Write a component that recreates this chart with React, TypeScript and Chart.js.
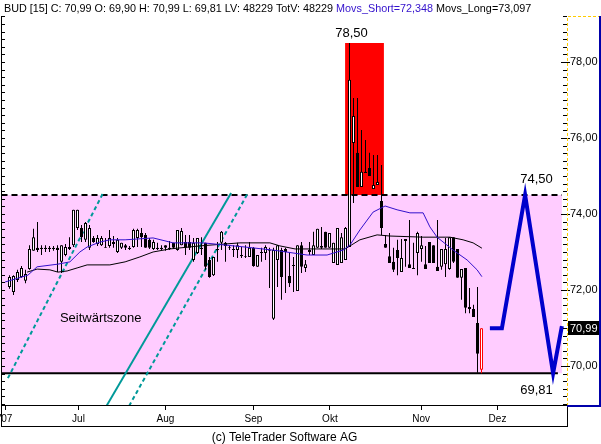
import React, { useEffect, useRef } from 'react';
import { Chart, registerables } from 'chart.js';

Chart.register(...registerables);

// ---- candle data (daily, trading-day index) ----
const opens = [
  72.08, 71.95, 72.26, 72.34, 72.24, 72.55, 73.03, 73.11, 73.11, 73.11,
  73.08, 73.11, 73.11, 72.74, 72.92, 73.13, 73.18, 73.63, 73.63, 73.32,
  73.11, 73.37, 73.21, 73.18, 73.13, 73.16, 73.26, 73.00, 73.11, 73.18,
  73.11, 73.13, 73.37, 73.50, 73.45, 73.32, 73.08, 73.11, 73.11, 73.18,
  73.11, 73.24, 73.05, 73.18, 73.26, 73.26, 72.79, 72.97, 73.11, 73.24,
  72.79, 72.39, 73.05, 73.24, 73.24, 73.11, 73.05, 73.05, 72.92, 72.87,
  72.87, 73.11, 72.61, 73.00, 72.97, 73.05, 71.24, 72.79, 73.05, 73.08,
  72.37, 72.63, 71.97, 73.18, 72.58, 73.00, 72.92, 73.11, 73.11, 73.53,
  73.11, 72.71, 72.66, 72.71, 72.79, 73.13, 75.87, 75.61, 74.71, 75.11,
  75.21, 74.66, 74.76, 74.34, 73.21, 72.89, 72.74, 73.05, 72.47, 73.29,
  72.68, 72.58, 72.97, 73.08, 72.68, 73.26, 73.18, 72.61, 72.61, 72.68,
  72.55, 73.39, 73.08, 72.32, 72.58, 71.55, 71.50, 71.13, 69.90,
];
const highs = [
  72.39, 72.39, 72.53, 72.63, 72.53, 73.18, 73.61, 73.79, 73.18, 73.18,
  73.16, 73.16, 73.18, 73.18, 73.21, 73.39, 74.11, 74.11, 73.71, 73.79,
  73.71, 73.42, 73.45, 73.42, 73.37, 73.58, 73.42, 73.37, 73.24, 73.21,
  73.16, 73.61, 73.61, 73.63, 73.50, 73.37, 73.32, 73.24, 73.18, 73.18,
  73.29, 73.24, 73.58, 73.63, 73.45, 73.45, 73.37, 73.37, 73.39, 73.24,
  72.87, 72.87, 73.26, 73.55, 73.26, 73.18, 73.18, 73.24, 73.13, 73.18,
  73.26, 73.13, 72.92, 73.11, 73.18, 73.11, 73.11, 73.18, 73.11, 73.11,
  72.97, 72.87, 73.18, 73.26, 72.79, 73.26, 73.53, 73.61, 73.66, 73.53,
  73.50, 73.24, 73.63, 73.50, 73.66, 78.50, 77.05, 77.05, 76.21, 75.95,
  75.61, 75.55, 75.55, 75.29, 73.45, 73.50, 73.11, 73.32, 73.34, 73.34,
  73.84, 73.24, 73.53, 73.42, 73.16, 73.26, 73.18, 73.84, 73.08, 73.37,
  73.39, 73.39, 73.08, 72.55, 72.58, 72.05, 71.61, 72.08, 70.99,
];
const lows = [
  72.03, 71.87, 72.21, 72.32, 72.18, 72.53, 73.03, 73.00, 72.92, 73.00,
  73.00, 73.03, 72.47, 72.45, 72.89, 73.05, 73.13, 73.58, 73.26, 73.26,
  73.05, 73.24, 73.16, 73.16, 73.11, 73.11, 73.11, 72.97, 73.08, 73.05,
  73.05, 73.11, 73.13, 73.13, 73.11, 73.08, 73.05, 73.05, 73.05, 73.03,
  73.05, 73.08, 73.03, 73.18, 72.92, 73.05, 72.74, 72.95, 72.92, 72.53,
  72.32, 72.37, 72.74, 73.05, 72.74, 73.05, 72.87, 72.84, 72.84, 72.84,
  72.87, 72.61, 72.61, 72.74, 72.79, 72.05, 71.21, 72.08, 71.74, 71.92,
  72.08, 71.95, 71.97, 72.45, 72.47, 72.92, 72.92, 73.11, 73.08, 73.11,
  73.11, 72.71, 72.66, 72.71, 72.79, 73.13, 74.29, 74.71, 74.71, 75.08,
  75.00, 74.66, 74.76, 73.45, 73.11, 72.71, 72.47, 72.39, 72.47, 72.61,
  72.58, 72.55, 72.39, 72.74, 72.55, 72.71, 72.71, 72.50, 72.53, 72.34,
  72.53, 72.71, 72.32, 71.74, 71.39, 71.39, 71.29, 69.82, 69.81,
];
const closes = [
  72.34, 72.37, 72.47, 72.58, 72.42, 73.08, 73.39, 73.05, 73.08, 73.08,
  73.11, 73.08, 73.05, 73.18, 73.13, 73.08, 74.11, 74.11, 73.39, 73.76,
  73.63, 73.26, 73.37, 73.37, 73.11, 73.37, 73.21, 73.32, 73.24, 73.11,
  73.08, 73.58, 73.58, 73.39, 73.11, 73.11, 73.26, 73.08, 73.08, 73.11,
  73.08, 73.11, 73.58, 73.55, 73.11, 73.11, 73.24, 73.37, 73.08, 72.61,
  72.34, 72.87, 73.08, 73.53, 73.16, 73.13, 73.08, 73.18, 72.89, 72.89,
  73.11, 72.63, 72.92, 72.97, 73.13, 73.03, 73.05, 73.18, 72.34, 73.00,
  72.18, 72.66, 73.18, 72.61, 72.68, 73.05, 73.18, 73.61, 73.16, 73.11,
  73.50, 73.24, 73.63, 73.39, 73.63, 77.53, 76.58, 74.71, 75.11, 75.08,
  75.00, 74.76, 74.84, 73.63, 73.11, 72.71, 72.53, 72.84, 72.84, 73.34,
  72.58, 72.55, 73.50, 73.18, 72.55, 72.71, 72.71, 72.50, 73.08, 73.08,
  73.39, 72.74, 72.32, 72.55, 71.53, 71.50, 71.29, 70.32, 70.99,
];

// ---- moving averages ----
const shortMaIdx = [-1.1, 4.6, 6.9, 12.1, 15.1, 17.6, 19.4, 22.6, 25.1, 28.9, 35.9, 40.9, 48.4, 58.9, 65.9, 74.4, 79.4, 83.4, 85.1, 87.6, 90.9, 93.9, 96.9, 100.1, 103.4, 105.1, 106.9, 110.9, 114.4, 116.9, 118.1];
const shortMaVal = [72.21, 72.39, 72.61, 72.68, 72.74, 73.0, 73.13, 73.26, 73.32, 73.32, 73.37, 73.24, 73.24, 73.13, 73.05, 72.92, 72.92, 73.05, 73.18, 73.58, 74.05, 74.21, 74.11, 74.03, 74.03, 73.66, 73.39, 73.05, 72.79, 72.53, 72.35];
const longMaIdx = [4.4, 6.9, 10.1, 12.1, 14.4, 16.9, 19.4, 25.1, 28.9, 32.6, 35.9, 40.1, 47.6, 57.6, 65.1, 67.6, 71.4, 83.9, 85.9, 87.6, 91.9, 95.1, 103.4, 110.1, 113.4, 115.9, 118.1];
const longMaVal = [72.47, 72.55, 72.53, 72.47, 72.5, 72.58, 72.66, 72.66, 72.74, 72.87, 73.0, 73.08, 73.16, 73.24, 73.24, 73.16, 73.08, 73.08, 73.21, 73.32, 73.45, 73.42, 73.39, 73.39, 73.32, 73.24, 73.1];

// ---- drawn trend lines ----
const trend1Idx = [-0.4, 23.4];
const trend1Val = [69.68, 74.55];
const trend2Idx = [24.25, 55.4];
const trend2Val = [68.95, 74.55];
const trend3Idx = [29.9, 59.6];
const trend3Val = [68.95, 74.55];

// ---- projection ----
const projIdx = [120.1, 123.1, 128.9, 135.9, 138.1];
const projVal = [70.99, 70.99, 74.5, 69.81, 71.05];

// ---- zones ----
const zoneTop = 74.5;
const zoneBottom = 69.81;
const zoneIdx = [-2, 138.1];
const zoneBottomIdx = [-2, 137.1];
const peakHigh = 78.5;
const peakBoxIdx = [83.9, 93.6];
const peakLabelIdx = 85.5;
const zoneLabelIdx = 131.75;
const zoneName = 'Seitwärtszone';
const zoneNameIdx = 12.6;
const zoneNameVal = 71.16;

// ---- axes ----
const monthTickIdx = [-0.9, 17.25, 39, 61, 80.1, 102.9, 122];
const monthLabels = ["'07", 'Jul', 'Aug', 'Sep', 'Okt', 'Nov', 'Dez'];
const yTicks = [70, 72, 74, 76, 78];
const xMin = -1.875;
const xMax = 139.375;
const yMin = 68.947;
const yMax = 79.21;

const headerTexts = ['BUD [15] C: 70,99 O: 69,90 H: 70,99 L: 69,81 LV: 48229 TotV: 48229 ', 'Movs_Short=72,348 ', 'Movs_Long=73,097'];
const headerColors = ['#000000', '#3311CC', '#000000'];
const copyright = '(c) TeleTrader Software AG';

const FONT = '"Liberation Sans", Arial, sans-serif';
const lastIdx = closes.length - 1;
const fmt = (v: number) => v.toFixed(2).replace('.', ',');

const decorPlugin = {
  id: 'decor',
  beforeDraw(chart: any) {
    const ctx = chart.ctx;
    ctx.save();
    ctx.fillStyle = '#ffffff';
    ctx.fillRect(0, 0, chart.width, chart.height);
    ctx.restore();
  },
  afterDatasetsDraw(chart: any) {
    const ctx = chart.ctx;
    const xs = chart.scales.x;
    const ys = chart.scales.y;
    ctx.save();
    ctx.fillStyle = '#000';
    ctx.font = `13px ${FONT}`;
    ctx.textAlign = 'center';
    ctx.textBaseline = 'bottom';
    ctx.fillText(fmt(peakHigh), xs.getPixelForValue(peakLabelIdx), ys.getPixelForValue(peakHigh) - 3);
    ctx.fillText(fmt(zoneTop), xs.getPixelForValue(zoneLabelIdx), ys.getPixelForValue(zoneTop) - 9);
    ctx.textBaseline = 'top';
    ctx.fillText(fmt(zoneBottom), xs.getPixelForValue(zoneLabelIdx), ys.getPixelForValue(zoneBottom) + 11);
    ctx.font = `13px ${FONT}`;
    ctx.textAlign = 'left';
    ctx.textBaseline = 'alphabetic';
    ctx.fillText(zoneName, xs.getPixelForValue(zoneNameIdx), ys.getPixelForValue(zoneNameVal));
    ctx.restore();
  },
  afterDraw(chart: any) {
    const ctx = chart.ctx;
    const ys = chart.scales.y;
    const area = chart.chartArea;
    ctx.save();
    // plot frame
    ctx.fillStyle = '#000';
    ctx.fillRect(area.left - 1, area.top, 1, area.bottom - area.top);
    ctx.fillRect(area.left - 1, area.bottom - 1, area.right - area.left + 1, 1);
    // x-axis box
    ctx.fillRect(area.left - 1, area.bottom + 20, area.right - area.left + 1, 1);
    ctx.fillRect(area.left - 1, area.bottom, 1, 21);
    ctx.fillRect(area.right, area.bottom, 1, 21);
    // y tick marks
    ctx.strokeStyle = '#000';
    ctx.lineWidth = 1;
    ctx.beginPath();
    for (let k = Math.ceil(ys.min * 5); k <= Math.floor(ys.max * 5); k++) {
      const y = Math.round(ys.getPixelForValue(k / 5)) + 0.5;
      ctx.moveTo(area.left, y);
      ctx.lineTo(area.left + 3, y);
      const major = k % 10 === 0;
      ctx.moveTo(area.right - (major ? 6 : 4), y);
      ctx.lineTo(area.right + (major ? 3 : 0), y);
    }
    ctx.stroke();
    // axis panel border
    ctx.strokeStyle = '#FFCC00';
    ctx.setLineDash([3, 2]);
    ctx.beginPath();
    ctx.moveTo(area.right + 0.5, area.bottom);
    ctx.lineTo(area.right + 0.5, area.top + 0.5);
    ctx.lineTo(chart.width - 2, area.top + 0.5);
    ctx.stroke();
    ctx.setLineDash([]);
    ctx.fillStyle = '#0000AA';
    ctx.fillRect(chart.width - 2, area.top, 2, area.bottom - area.top + 1);
    ctx.fillRect(area.right, area.bottom - 1, chart.width - area.right, 2);
    // last value box
    const yv = ys.getPixelForValue(closes[lastIdx]);
    ctx.fillStyle = '#000';
    ctx.fillRect(area.right + 1, Math.round(yv) - 7, 31, 14);
    ctx.fillStyle = '#fff';
    ctx.font = `11px ${FONT}`;
    ctx.textAlign = 'left';
    ctx.textBaseline = 'middle';
    ctx.fillText(fmt(closes[lastIdx]), area.right + 3, Math.round(yv) + 0.5);
    // header
    ctx.font = `10.8px ${FONT}`;
    ctx.textBaseline = 'alphabetic';
    let x = 4;
    headerTexts.forEach((t, i) => {
      ctx.fillStyle = headerColors[i];
      ctx.fillText(t, x, 12);
      x += ctx.measureText(t).width;
    });
    ctx.restore();
  },
};

export default function App() {
  const ref = useRef<HTMLCanvasElement | null>(null);
  useEffect(() => {
    if (!ref.current) return;
    const lineBase = { type: 'line' as const, pointRadius: 0, tension: 0 };
    const chart = new Chart(ref.current, {
      type: 'bar',
      data: {
        datasets: [
          {
            ...lineBase,
            data: peakBoxIdx.map((x) => ({ x, y: peakHigh })),
            fill: { value: zoneTop },
            backgroundColor: '#FF0000',
            borderWidth: 0,
            order: 20,
          },
          {
            ...lineBase,
            data: zoneIdx.map((x) => ({ x, y: zoneTop })),
            fill: { value: zoneBottom },
            backgroundColor: '#FFCCFF',
            borderColor: '#000',
            borderWidth: 2,
            borderDash: [6, 4],
            order: 19,
          },
          {
            ...lineBase,
            data: zoneBottomIdx.map((x) => ({ x, y: zoneBottom })),
            borderColor: '#000',
            borderWidth: 2,
            order: 18,
          },
          {
            ...lineBase,
            data: trend1Idx.map((x, i) => ({ x, y: trend1Val[i] })),
            borderColor: '#009999',
            borderWidth: 2,
            borderDash: [4, 3],
            order: 17,
          },
          {
            ...lineBase,
            data: trend2Idx.map((x, i) => ({ x, y: trend2Val[i] })),
            borderColor: '#009999',
            borderWidth: 2,
            order: 16,
          },
          {
            ...lineBase,
            data: trend3Idx.map((x, i) => ({ x, y: trend3Val[i] })),
            borderColor: '#009999',
            borderWidth: 2,
            borderDash: [4, 3],
            order: 15,
          },
          {
            type: 'bar',
            data: lows.map((l, i) => ({ x: i, y: [l, highs[i]] })),
            backgroundColor: (c: any) => (c.dataIndex === lastIdx ? '#FF0000' : '#000000'),
            borderWidth: 0,
            barThickness: 1,
            grouped: false,
            inflateAmount: 0,
            order: 10,
          } as any,
          {
            type: 'bar',
            data: opens.map((o, i) => ({ x: i, y: [o, closes[i]] })),
            backgroundColor: (c: any) =>
              closes[c.dataIndex] >= opens[c.dataIndex] ? '#FFFFFF' : '#000000',
            borderColor: (c: any) => (c.dataIndex === lastIdx ? '#FF0000' : '#000000'),
            borderWidth: 1,
            borderSkipped: false,
            barThickness: 3,
            grouped: false,
            inflateAmount: 0,
            order: 9,
          } as any,
          {
            ...lineBase,
            data: longMaIdx.map((x, i) => ({ x, y: longMaVal[i] })),
            borderColor: '#000000',
            borderWidth: 1,
            order: 5,
          },
          {
            ...lineBase,
            data: shortMaIdx.map((x, i) => ({ x, y: shortMaVal[i] })),
            borderColor: '#3311CC',
            borderWidth: 1,
            order: 4,
          },
          {
            ...lineBase,
            data: projIdx.map((x, i) => ({ x, y: projVal[i] })),
            borderColor: '#0000CC',
            borderWidth: 4,
            borderJoinStyle: 'miter',
            order: 3,
          },
        ] as any,
      },
      options: {
        responsive: false,
        animation: false,
        devicePixelRatio: 1,
        layout: { padding: { left: 2, top: 16, right: 0, bottom: 0 } },
        plugins: { legend: { display: false }, tooltip: { enabled: false } },
        scales: {
          x: {
            type: 'linear',
            min: xMin,
            max: xMax,
            offset: false,
            grid: { display: true, drawOnChartArea: false, drawTicks: true, tickLength: 4, color: '#000', offset: false },
            border: { display: false },
            ticks: {
              autoSkip: false,
              maxRotation: 0,
              minRotation: 0,
              padding: 3,
              color: '#000',
              font: { family: '"Liberation Sans Narrow", "Liberation Sans", sans-serif', size: 10 },
              callback: (_v: any, i: number) => monthLabels[i] ?? '',
            },
            afterBuildTicks: (s: any) => {
              s.ticks = monthTickIdx.map((v) => ({ value: v }));
            },
            afterFit: (s: any) => {
              s.height = 38;
              s.paddingLeft = 0;
              s.paddingRight = 0;
              s.paddingTop = 0;
              s.paddingBottom = 0;
            },
            title: {
              display: true,
              text: copyright,
              color: '#000',
              font: { family: FONT, size: 12, lineHeight: 1 },
              padding: 0,
            },
          },
          y: {
            type: 'linear',
            position: 'right',
            min: yMin,
            max: yMax,
            grid: { display: false, drawTicks: false },
            border: { display: false },
            ticks: {
              padding: 3,
              color: '#000',
              font: { family: FONT, size: 11 },
              callback: (v: any) => fmt(Number(v)),
            },
            afterBuildTicks: (s: any) => {
              s.ticks = yTicks.map((v) => ({ value: v }));
            },
            afterFit: (s: any) => {
              s.width = 34;
              s.paddingTop = 0;
              s.paddingBottom = 0;
              s.paddingLeft = 0;
              s.paddingRight = 0;
            },
          },
        },
      } as any,
      plugins: [decorPlugin],
    });
    return () => chart.destroy();
  }, []);
  return (
    <div style={{ position: 'fixed', left: 0, top: 0, width: 601, height: 444, background: '#fff' }}>
      <canvas ref={ref} width={601} height={444} />
    </div>
  );
}
